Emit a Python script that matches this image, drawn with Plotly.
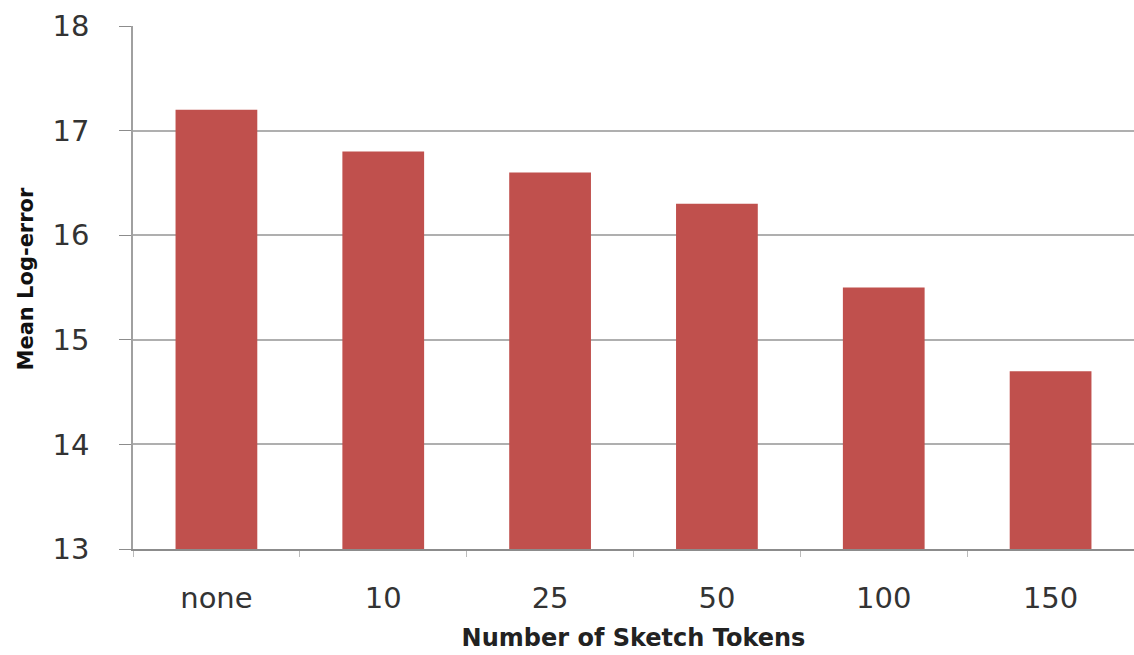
import plotly.graph_objects as go

# Mean log-error by number of sketch tokens
categories = ["none", "10", "25", "50", "100", "150"]
mean_log_error = [17.2, 16.8, 16.6, 16.3, 15.5, 14.7]
y_ticks = [13, 14, 15, 16, 17, 18]

bar_color = "#C0504D"
grid_color = "#AFAFAF"

fig = go.Figure(
    go.Bar(
        x=categories,
        y=mean_log_error,
        marker=dict(color=bar_color, line=dict(width=0)),
        width=0.49,
    )
)

fig.update_layout(
    width=1134,
    height=655,
    margin=dict(l=133, r=0, t=26, b=106),
    paper_bgcolor="white",
    plot_bgcolor="white",
    showlegend=False,
    font=dict(family="DejaVu Sans", color="#333333"),
    annotations=[
        dict(
            text="<b>Mean Log-error</b>",
            textangle=-90,
            xref="paper",
            yref="paper",
            x=0,
            y=0.5,
            xanchor="center",
            yanchor="middle",
            xshift=-108,
            yshift=9,
            showarrow=False,
            font=dict(size=21, family="DejaVu Sans", color="#111111"),
        )
    ],
)

fig.update_xaxes(
    type="category",
    showgrid=False,
    showline=True,
    linecolor="#8C8C8C",
    linewidth=1.5,
    ticks="outside",
    tickson="boundaries",
    ticklen=6,
    tickcolor="#BBBBBB",
    tickfont=dict(size=29, family="DejaVu Sans", color="#333333"),
    ticklabelstandoff=22,
    title=dict(
        text="<b>Number of Sketch Tokens</b>",
        font=dict(size=24, family="DejaVu Sans", color="#222222"),
        standoff=16,
    ),
)

fig.update_yaxes(
    range=[13, 18],
    tickvals=y_ticks,
    showgrid=True,
    gridcolor=grid_color,
    gridwidth=1.8,
    showline=True,
    linecolor="#A0A0A0",
    linewidth=1.5,
    ticks="outside",
    ticklen=12,
    tickcolor="#8C8C8C",
    tickfont=dict(size=29, family="DejaVu Sans", color="#333333"),
    ticklabelstandoff=24,
    zeroline=False,
)

fig.write_html("out.html")
